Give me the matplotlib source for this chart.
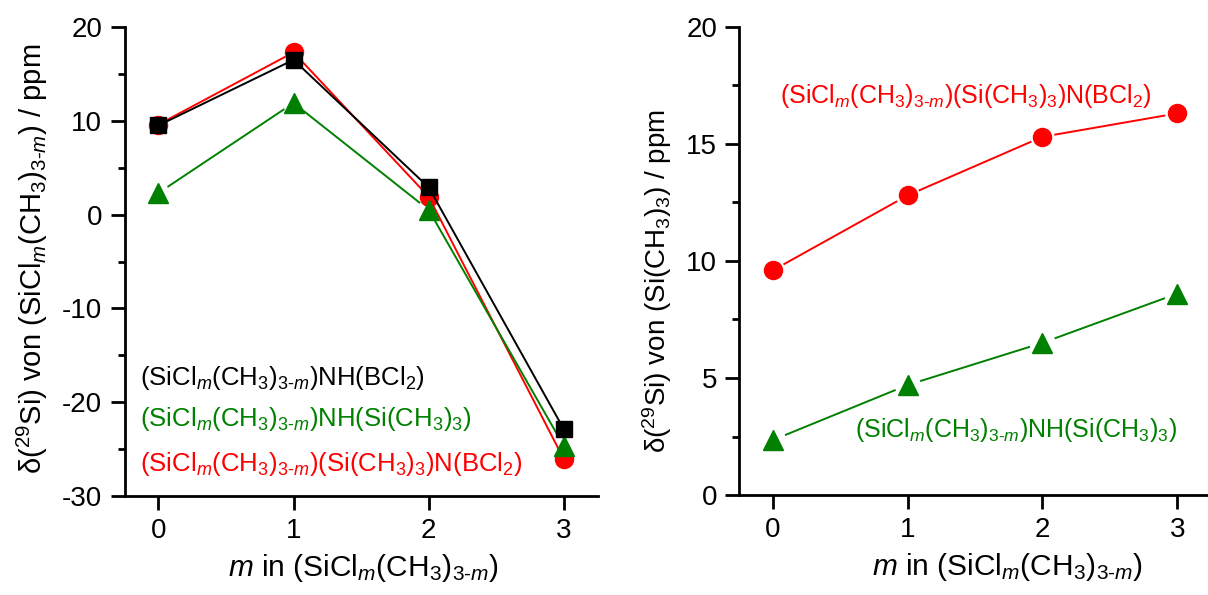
import matplotlib
matplotlib.use("Agg")
import matplotlib.pyplot as plt
import numpy as np
from matplotlib.ticker import MultipleLocator

plt.rcParams['font.family'] = ['Liberation Sans', 'DejaVu Sans']
plt.rcParams['mathtext.fontset'] = 'custom'
plt.rcParams['mathtext.rm'] = 'Liberation Sans'
plt.rcParams['mathtext.it'] = 'Liberation Sans:italic'
plt.rcParams['mathtext.bf'] = 'Liberation Sans:bold'
plt.rcParams['axes.unicode_minus'] = False

# ---- data ----
m_values = [0, 1, 2, 3]
left_nh_bcl2 = [9.5, 16.5, 2.9, -22.9]          # black squares
left_nh_sime3 = [2.3, 11.9, 0.5, -24.7]          # green triangles
left_sime3_n_bcl2 = [9.6, 17.3, 1.9, -26.1]      # red circles
right_sime3_n_bcl2 = [9.6, 12.8, 15.3, 16.3]     # red circles
right_nh_sime3 = [2.35, 4.7, 6.5, 8.6]           # green triangles

lab_black = r'(SiCl$_{\mathit{m}}$(CH$_3$)$_{3\text{-}\mathit{m}}$)NH(BCl$_2$)'
lab_green = r'(SiCl$_{\mathit{m}}$(CH$_3$)$_{3\text{-}\mathit{m}}$)NH(Si(CH$_3$)$_3$)'
lab_red = r'(SiCl$_{\mathit{m}}$(CH$_3$)$_{3\text{-}\mathit{m}}$)(Si(CH$_3$)$_3$)N(BCl$_2$)'
xlab = r'$\mathit{m}$ in (SiCl$_{\mathit{m}}$(CH$_3$)$_{3\text{-}\mathit{m}}$)'
ylab_left = r'δ($^{29}$Si) von (SiCl$_{\mathit{m}}$(CH$_3$)$_{3\text{-}\mathit{m}}$) / ppm'
ylab_right = r'δ($^{29}$Si) von (Si(CH$_3$)$_3$) / ppm'

RED = '#ff0000'
GREEN = '#008000'
BLACK = '#000000'

fig = plt.figure(figsize=(12.08, 5.95), dpi=100)
axL = fig.add_axes([0.1031, 0.1664, 0.3917, 0.7882])
axR = fig.add_axes([0.612, 0.168, 0.387, 0.787])

for ax in (axL, axR):
    for s in ('top', 'right'):
        ax.spines[s].set_visible(False)
    for s in ('left', 'bottom'):
        ax.spines[s].set_linewidth(2.0)
    ax.tick_params(axis='both', which='major', direction='out', length=10, width=2.0,
                   labelsize=20, pad=6)
    ax.tick_params(axis='y', which='minor', direction='out', length=5, width=2.0)
    ax.tick_params(axis='x', which='minor', length=0)
    ax.set_xticks(m_values)

axL.set_xlim(-0.25, 3.25)
axL.set_ylim(-30, 20)
axR.set_xlim(-0.25, 3.22)
axR.set_ylim(0, 20)

lw = 1.4


def gapped_series(ax, x, y, color, marker, ms, gap_px, z):
    """Line segments stopping short of the markers (Origin style), then markers."""
    trans = ax.transData
    pts = trans.transform(np.column_stack([x, y]))
    inv = trans.inverted()
    for i in range(len(pts) - 1):
        p0, p1 = pts[i], pts[i + 1]
        d = p1 - p0
        L = np.hypot(*d)
        if L <= 2 * gap_px:
            continue
        u = d / L
        a = inv.transform(p0 + u * gap_px)
        b = inv.transform(p1 - u * gap_px)
        ax.plot([a[0], b[0]], [a[1], b[1]], '-', color=color, lw=lw, zorder=z,
                solid_capstyle='butt')
    ax.plot(x, y, linestyle='none', marker=marker, color=color, ms=ms, zorder=z + 0.5)


# left panel
gapped_series(axL, m_values, left_sime3_n_bcl2, RED, 'o', 13, 9, 3)
gapped_series(axL, m_values, left_nh_sime3, GREEN, '^', 15, 11, 4)
gapped_series(axL, m_values, left_nh_bcl2, BLACK, 's', 11, 8, 5)
axL.yaxis.set_major_locator(MultipleLocator(10))
axL.yaxis.set_minor_locator(MultipleLocator(5))
axL.set_xlabel(xlab, fontsize=21.5, va='top')
axL.xaxis.set_label_coords(0.504, -0.12)
axL.set_ylabel(ylab_left, fontsize=21)
axL.yaxis.set_label_coords(-0.157, 0.506)

axL.text(-0.133, -18.2, lab_black, color=BLACK, fontsize=18.5, va='baseline', ha='left')
axL.text(-0.133, -22.5, lab_green, color=GREEN, fontsize=18.5, va='baseline', ha='left')
axL.text(-0.133, -27.3, lab_red, color=RED, fontsize=18.5, va='baseline', ha='left')

# right panel
gapped_series(axR, m_values, right_sime3_n_bcl2, RED, 'o', 13, 12, 3)
gapped_series(axR, m_values, right_nh_sime3, GREEN, '^', 15, 13, 4)
axR.yaxis.set_major_locator(MultipleLocator(5))
axR.yaxis.set_minor_locator(MultipleLocator(2.5))
axR.set_xlabel(xlab, fontsize=21.5, va='top')
axR.xaxis.set_label_coords(0.574, -0.12)
axR.set_ylabel(ylab_right, fontsize=20)
axR.yaxis.set_label_coords(-0.139, 0.457)

axR.text(0.05, 16.74, lab_red, color=RED, fontsize=18, va='baseline', ha='left')
axR.text(0.61, 2.49, lab_green, color=GREEN, fontsize=18, va='baseline', ha='left')

fig.savefig('out.png', dpi=100)
